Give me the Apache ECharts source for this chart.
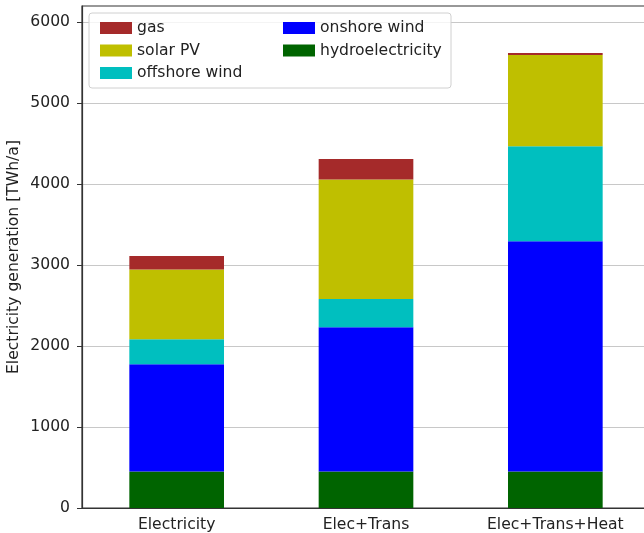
<!DOCTYPE html>
<html>
<head>
<meta charset="utf-8">
<script src="https://cdn.jsdelivr.net/npm/echarts@6/dist/echarts.min.js"></script>
<style>
    html, body { margin: 0; padding: 0; background: #fff; }
    #main { width: 644px; height: 533px; }
</style>
</head>
<body>
<div id="main"></div>
<script>
    // scenario categories
    var categories = ['Electricity', 'Elec+Trans', 'Elec+Trans+Heat'];

    // generation per technology [TWh/a], stacked bottom to top
    var hydro = [450, 450, 450];
    var onshore = [1324, 1781, 2846];
    var offshore = [309, 349, 1173];
    var solar = [864, 1478, 1127];
    var gas = [164, 251, 25];

    var yTicks = [0, 1000, 2000, 3000, 4000, 5000, 6000];

    var font = '"DejaVu Sans"';
    var fs = 15.6;
    var myChart = echarts.init(document.getElementById('main'), null, {renderer: 'canvas'});

    function bar(name, data, color) {
        return {
            name: name,
            type: 'bar',
            stack: 'total',
            barWidth: '50%',
            data: data,
            itemStyle: {color: color},
            emphasis: {disabled: true}
        };
    }

    function legendCol(items, left) {
        return {
            data: items,
            orient: 'vertical',
            left: left,
            top: 15,
            itemWidth: 32,
            itemHeight: 12,
            itemGap: 6.5,
            itemTextGap: 14,
            icon: 'rect',
            selectedMode: false,
            textStyle: {fontSize: fs, color: '#222', fontFamily: font},
            z: 100
        };
    }

    myChart.setOption({
        animation: false,
        textStyle: {fontFamily: font},
        grid: {
            left: 82,
            top: 6,
            width: 568,
            height: 502,
            containLabel: false,
            outerBoundsMode: 'none',
            show: true,
            borderColor: '#333',
            borderWidth: 1.2,
            backgroundColor: 'transparent'
        },
        graphic: [{
            type: 'rect',
            shape: {x: 89, y: 13, width: 362, height: 75, r: 3},
            style: {fill: 'rgba(255,255,255,0.8)', stroke: '#d0d0d0', lineWidth: 1},
            z: 90
        }],
        legend: [
            legendCol(['gas', 'solar PV', 'offshore wind'], 95),
            legendCol(['onshore wind', 'hydroelectricity'], 278)
        ],
        xAxis: {
            type: 'category',
            data: categories,
            axisLine: {lineStyle: {color: '#333', width: 1.2}},
            axisTick: {alignWithLabel: true, length: 5, lineStyle: {color: '#333'}},
            axisLabel: {fontSize: fs, color: '#222', margin: 9, fontFamily: font}
        },
        yAxis: {
            type: 'value',
            min: 0,
            max: 6200,
            interval: 1000,
            name: 'Electricity generation [TWh/a]',
            nameLocation: 'middle',
            nameGap: 60,
            nameMoveOverlap: false,
            nameTextStyle: {fontSize: fs, color: '#222', fontFamily: font},
            axisLine: {show: true, lineStyle: {color: '#333', width: 1.2}},
            axisTick: {show: true, length: 5, lineStyle: {color: '#333'}, customValues: yTicks},
            axisLabel: {
                fontSize: fs, color: '#222', margin: 12, fontFamily: font,
                customValues: yTicks,
                formatter: function (v) { return String(v); }
            },
            splitLine: {lineStyle: {color: '#c8c8c8', width: 1.2}}
        },
        series: [
            bar('hydroelectricity', hydro, '#006400'),
            bar('onshore wind', onshore, '#0000ff'),
            bar('offshore wind', offshore, '#00bfbf'),
            bar('solar PV', solar, '#bfbf00'),
            bar('gas', gas, '#a52a2a')
        ]
    });
</script>
</body>
</html>
